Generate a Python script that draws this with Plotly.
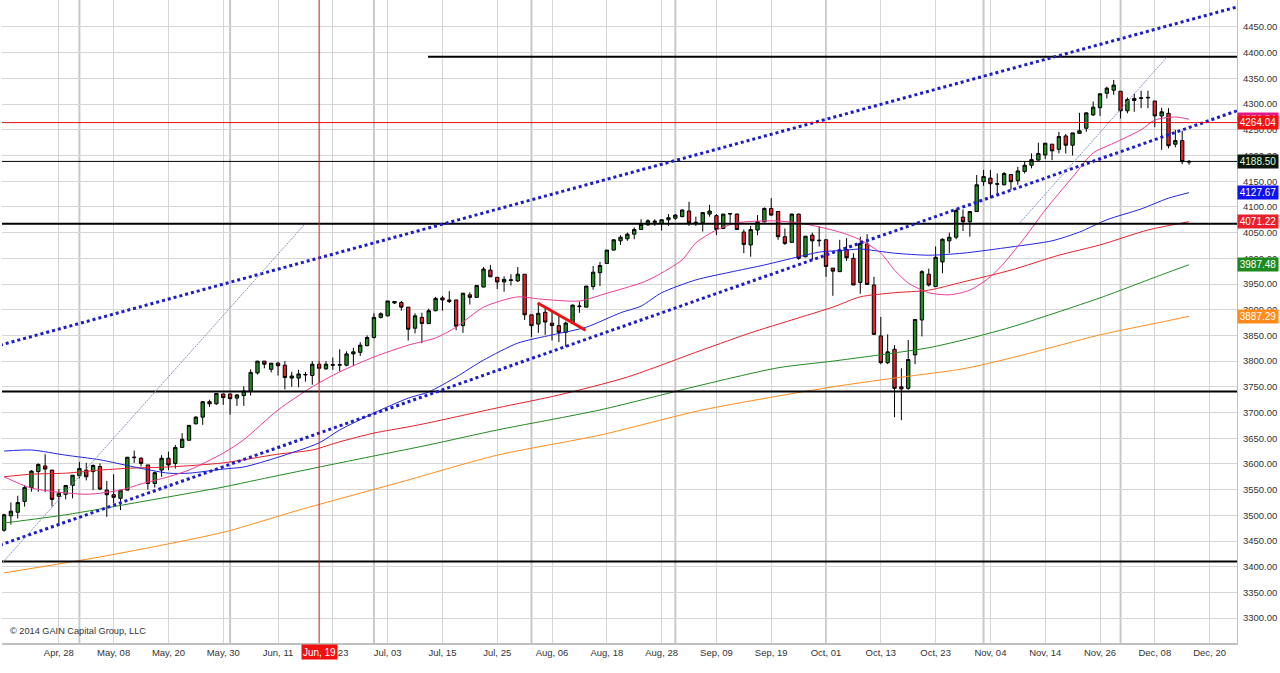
import plotly.graph_objects as go

# daily candles, index 0 = Apr 16 2014 (trading days, every 8th one labelled)
opens = [3471, 3499, 3506, 3527, 3554, 3585, 3596, 3588, 3537, 3541,
         3558, 3577, 3588, 3585, 3595, 3549, 3540, 3533, 3549, 3612,
         3611, 3598, 3562, 3588, 3611, 3601, 3632, 3646, 3678, 3691,
         3721, 3717, 3736, 3736, 3728, 3733, 3742, 3777, 3800, 3784,
         3796, 3792, 3767, 3767, 3773, 3772, 3794, 3785, 3792, 3792,
         3792, 3814, 3817, 3830, 3846, 3885, 3888, 3913, 3914, 3905,
         3864, 3885, 3873, 3898, 3923, 3919, 3919, 3869, 3929, 3924,
         3944, 3977, 3963, 3954, 3957, 3956, 3969, 3890, 3872, 3895,
         3874, 3869, 3856, 3874, 3906, 3905, 3945, 3972, 3990, 4016,
         4034, 4038, 4047, 4056, 4065, 4070, 4068, 4075, 4078, 4081,
         4092, 4068, 4069, 4086, 4083, 4058, 4086, 4086, 4051, 4026,
         4055, 4071, 4097, 4091, 4042, 4031, 4086, 4003, 4045, 4034,
         4036, 3981, 3974, 4017, 4000, 3953, 4028, 3948, 3849, 3797,
         3823, 3750, 3747, 3812, 3880, 3969, 3945, 3993, 4034, 4041,
         4080, 4071, 4091, 4149, 4156, 4144, 4143, 4163, 4151, 4169,
         4181, 4191, 4201, 4222, 4212, 4238, 4220, 4243, 4253, 4279,
         4293, 4321, 4327, 4325, 4287, 4307, 4311, 4312, 4306, 4277,
         4282, 4222, 4229, 4187]
highs = [3503, 3525, 3538, 3559, 3588, 3601, 3619, 3588, 3551, 3558,
         3578, 3604, 3602, 3599, 3601, 3567, 3580, 3549, 3613, 3626,
         3613, 3598, 3585, 3617, 3624, 3637, 3660, 3675, 3693, 3722,
         3725, 3738, 3737, 3737, 3736, 3751, 3784, 3800, 3800, 3796,
         3799, 3800, 3779, 3783, 3779, 3800, 3800, 3800, 3807, 3823,
         3819, 3826, 3837, 3850, 3893, 3895, 3917, 3917, 3917, 3905,
         3893, 3894, 3902, 3925, 3927, 3936, 3919, 3933, 3934, 3947,
         3983, 3987, 3963, 3965, 3969, 3983, 3969, 3890, 3914, 3903,
         3896, 3890, 3877, 3910, 3916, 3946, 3985, 3993, 4016, 4037,
         4045, 4050, 4060, 4076, 4076, 4076, 4076, 4086, 4086, 4095,
         4110, 4081, 4089, 4104, 4086, 4086, 4087, 4087, 4056, 4063,
         4084, 4099, 4117, 4091, 4058, 4087, 4087, 4043, 4050, 4062,
         4036, 3981, 4036, 4039, 4010, 4042, 4047, 3964, 3886, 3852,
         3831, 3786, 3841, 3881, 3977, 3980, 4023, 4039, 4050, 4097,
         4095, 4091, 4162, 4172, 4172, 4165, 4168, 4163, 4178, 4188,
         4204, 4225, 4224, 4222, 4246, 4242, 4244, 4283, 4283, 4305,
         4321, 4334, 4347, 4325, 4313, 4320, 4326, 4326, 4306, 4293,
         4292, 4250, 4248, 4191]
lows = [3468, 3482, 3494, 3517, 3546, 3546, 3545, 3517, 3480, 3531,
        3533, 3572, 3568, 3549, 3549, 3497, 3523, 3510, 3549, 3602,
        3595, 3550, 3554, 3575, 3588, 3591, 3631, 3646, 3677, 3676,
        3711, 3715, 3715, 3696, 3713, 3713, 3733, 3774, 3786, 3778,
        3772, 3745, 3750, 3749, 3760, 3754, 3758, 3783, 3783, 3780,
        3790, 3790, 3810, 3829, 3844, 3883, 3887, 3911, 3898, 3840,
        3854, 3835, 3872, 3897, 3898, 3913, 3860, 3855, 3910, 3923,
        3944, 3964, 3940, 3935, 3947, 3954, 3880, 3847, 3855, 3851,
        3840, 3837, 3828, 3873, 3894, 3905, 3939, 3946, 3989, 4015,
        4026, 4034, 4037, 4056, 4063, 4063, 4054, 4063, 4075, 4080,
        4063, 4063, 4052, 4081, 4045, 4058, 4068, 4055, 4010, 4003,
        4045, 4070, 4083, 4036, 4026, 4031, 3997, 4002, 3997, 4023,
        3964, 3927, 3974, 3995, 3948, 3931, 3948, 3852, 3794, 3794,
        3691, 3685, 3744, 3794, 3848, 3945, 3944, 3971, 4010, 4037,
        4053, 4042, 4091, 4141, 4117, 4123, 4142, 4133, 4143, 4165,
        4175, 4190, 4193, 4191, 4204, 4204, 4200, 4243, 4246, 4277,
        4277, 4311, 4318, 4272, 4282, 4285, 4292, 4292, 4255, 4211,
        4214, 4216, 4183, 4182]
closes = [3501, 3508, 3525, 3554, 3586, 3599, 3590, 3531, 3543, 3558,
          3578, 3591, 3575, 3597, 3551, 3540, 3535, 3549, 3613, 3613,
          3601, 3562, 3583, 3611, 3598, 3632, 3648, 3675, 3691, 3721,
          3717, 3737, 3729, 3727, 3734, 3742, 3778, 3800, 3794, 3796,
          3791, 3768, 3771, 3775, 3774, 3794, 3786, 3794, 3793, 3793,
          3814, 3818, 3831, 3846, 3885, 3892, 3917, 3916, 3905, 3862,
          3888, 3873, 3898, 3922, 3919, 3916, 3868, 3932, 3924, 3947,
          3979, 3964, 3954, 3959, 3958, 3969, 3890, 3869, 3893, 3876,
          3869, 3856, 3874, 3909, 3907, 3946, 3973, 3986, 4016, 4036,
          4041, 4047, 4056, 4066, 4073, 4072, 4075, 4079, 4084, 4094,
          4069, 4070, 4089, 4092, 4056, 4086, 4087, 4056, 4027, 4056,
          4071, 4097, 4084, 4042, 4029, 4086, 4000, 4043, 4034, 4035,
          3984, 3975, 4016, 4001, 3948, 4029, 3949, 3852, 3797, 3818,
          3747, 3746, 3803, 3881, 3974, 3948, 4002, 4037, 4041, 4093,
          4071, 4091, 4143, 4159, 4145, 4145, 4165, 4149, 4170, 4181,
          4192, 4204, 4224, 4209, 4237, 4220, 4244, 4248, 4283, 4294,
          4320, 4331, 4337, 4287, 4309, 4311, 4312, 4313, 4277, 4285,
          4219, 4229, 4188, 4188.5]

tick_pos = [8, 16, 24, 32, 40, 48, 56, 64, 72, 80, 88,
            96, 104, 112, 120, 128, 136, 144, 152, 160, 168, 176]
tick_labels = ['Apr, 28', 'May, 08', 'May, 20', 'May, 30', 'Jun, 11', 'Jun, 23',
               'Jul, 03', 'Jul, 15', 'Jul, 25', 'Aug, 06', 'Aug, 18', 'Aug, 28',
               'Sep, 09', 'Sep, 19', 'Oct, 01', 'Oct, 13', 'Oct, 23', 'Nov, 04',
               'Nov, 14', 'Nov, 26', 'Dec, 08', 'Dec, 20']
month_starts = [11, 33, 54, 77, 98, 120, 143, 163]

# moving averages (index, value)
ma20_x = [0, 4, 12, 17, 20, 24, 27, 32, 35, 40, 45, 49, 54, 59, 63, 66, 70, 75, 78,
          84, 88, 93, 95, 99, 101, 104, 107, 112, 116, 119, 122, 125, 128, 130,
          132, 135, 138, 141, 144, 146, 149, 152, 156, 159, 162, 166, 168, 171, 173]
ma20_y = [3575, 3553, 3541, 3549, 3561, 3575, 3588, 3621, 3647, 3705, 3750, 3779,
          3808, 3831, 3845, 3866, 3905, 3925, 3921, 3917, 3932, 3952, 3964, 3997,
          4030, 4055, 4069, 4073, 4069, 4061, 4051, 4036, 4010, 3977, 3952, 3933,
          3929, 3938, 3964, 3991, 4040, 4094, 4158, 4205, 4224, 4250, 4269, 4275, 4270.54]
ma50_x = [0, 4, 9, 14, 19, 24, 27, 32, 35, 40, 46, 49, 54, 59, 62, 66, 70, 75, 80,
          85, 90, 93, 96, 101, 106, 111, 116, 119, 123, 125, 130, 135, 140, 147,
          153, 157, 161, 166, 170, 173]
ma50_y = [3625, 3627, 3617, 3608, 3594, 3582, 3582, 3590, 3594, 3613, 3641, 3666,
          3699, 3728, 3740, 3769, 3802, 3835, 3851, 3866, 3894, 3907, 3933, 3958,
          3973, 3987, 4003, 4012, 4016, 4018, 4010, 4006, 4010, 4022, 4034, 4051,
          4075, 4096, 4117, 4127.67]
ma100_x = [0, 4, 9, 14, 19, 24, 32, 40, 45, 49, 54, 59, 62, 72, 81, 91, 102, 109,
           115, 121, 125, 130, 135, 140, 147, 154, 160, 167, 173]
ma100_y = [3575, 3580, 3582, 3588, 3592, 3594, 3602, 3619, 3627, 3643, 3660, 3672,
           3680, 3709, 3734, 3769, 3822, 3855, 3880, 3905, 3925, 3933, 3938, 3954,
           3977, 4006, 4026, 4055, 4071.22]
ma150_x = [0, 9, 19, 32, 37, 49, 62, 72, 87, 102, 113, 121, 130, 135, 140, 147,
           160, 169, 173]
ma150_y = [3485, 3501, 3524, 3555, 3569, 3602, 3637, 3666, 3705, 3754, 3787, 3800,
           3816, 3826, 3841, 3866, 3923, 3968, 3987.48]
ma200_x = [0, 14, 32, 43, 58, 72, 87, 102, 121, 130, 140, 147, 160, 169, 173]
ma200_y = [3388, 3419, 3467, 3510, 3565, 3617, 3656, 3705, 3750, 3767, 3785, 3806,
           3851, 3876, 3887.29]

# drawn objects
channel_upper = [(-0.6, 3831), (180, 4489)]
channel_lower = [(-0.6, 3442), (180, 4287)]
fan_lines = [[(-0.15, 3409), (43.8, 4065)], [(148.3, 4069), (169.8, 4392)]]
red_trend = [(77.9, 3913), (84.9, 3860)]
levels_full = [4067, 3741, 3410]
level_top = 4392
level_top_start = 61.9
last_price = 4188.50
cross_x, cross_y = 46, 4264.04
cross_label = 'Jun, 19'

y_ticks = list(range(3300, 4451, 50))
xr = [-0.3, 180]
yr = [3251.6, 4502.5]

FONT = 'Arial, Liberation Sans, sans-serif'
FS = 9.2

fig = go.Figure()

ma_styles = [(ma200_x, ma200_y, '#ff8c1a'), (ma150_x, ma150_y, '#228b22'),
             (ma100_x, ma100_y, '#e8202a'), (ma50_x, ma50_y, '#2323e0'),
             (ma20_x, ma20_y, '#ee3a96')]
for mx, my, col in ma_styles:
    fig.add_trace(go.Scatter(x=mx, y=my, mode='lines', hoverinfo='skip',
                             line=dict(color=col, width=1, shape='spline', smoothing=0.7)))

fig.add_trace(go.Candlestick(
    x=list(range(len(opens))), open=opens, high=highs, low=lows, close=closes,
    increasing=dict(line=dict(color='#000000', width=1), fillcolor='#228b22'),
    decreasing=dict(line=dict(color='#000000', width=1), fillcolor='#e8202a'),
    whiskerwidth=0))

shapes = []
for m in month_starts:
    shapes.append(dict(type='line', xref='x', yref='paper', x0=m, x1=m, y0=0, y1=1,
                       layer='below', line=dict(color='#c8c8c8', width=2)))
for lv in levels_full:
    shapes.append(dict(type='line', xref='paper', yref='y', x0=0, x1=1, y0=lv, y1=lv,
                       line=dict(color='#000000', width=2)))
shapes.append(dict(type='line', xref='x', yref='y', x0=level_top_start, x1=xr[1],
                   y0=level_top, y1=level_top, line=dict(color='#000000', width=2)))
shapes.append(dict(type='line', xref='paper', yref='y', x0=0, x1=1, y0=last_price,
                   y1=last_price, line=dict(color='#000000', width=1)))
for (a, b) in [channel_upper, channel_lower]:
    shapes.append(dict(type='line', xref='x', yref='y', x0=a[0], y0=a[1], x1=b[0], y1=b[1],
                       line=dict(color='#1c1cc8', width=3, dash='3px,3px')))
for (a, b) in fan_lines:
    shapes.append(dict(type='line', xref='x', yref='y', x0=a[0], y0=a[1], x1=b[0], y1=b[1],
                       line=dict(color='#8395bd', width=1, dash='2px,1px')))
shapes.append(dict(type='line', xref='x', yref='y', x0=red_trend[0][0], y0=red_trend[0][1],
                   x1=red_trend[1][0], y1=red_trend[1][1],
                   line=dict(color='#ee1111', width=3)))
shapes.append(dict(type='line', xref='x', yref='paper', x0=cross_x, x1=cross_x, y0=0, y1=1,
                   line=dict(color='#e01010', width=1)))
shapes.append(dict(type='line', xref='paper', yref='y', x0=0, x1=1, y0=cross_y, y1=cross_y,
                   line=dict(color='#e01010', width=1)))

tags = [(4270.54, '#e0188c', '#ffffff'), (cross_y, '#f01010', '#ffffff'),
        (last_price, '#0c160c', '#d8ffd8'), (4127.67, '#1010f0', '#ffffff'),
        (4071.22, '#e8202a', '#ffffff'), (3987.48, '#1e8a1e', '#ffffff'),
        (3887.29, '#ff8c1a', '#ffffff')]
annotations = []
for val, bg, fc in tags:
    annotations.append(dict(xref='paper', yref='y', x=1, y=val, xanchor='left',
                            yanchor='middle', text='%.2f' % val, showarrow=False,
                            bgcolor=bg, width=40, height=13, borderpad=0, xshift=0,
                            font=dict(family=FONT, size=FS + 0.8, color=fc)))
annotations.append(dict(xref='x', yref='paper', x=cross_x, y=0, yanchor='top',
                        xanchor='center', text=cross_label, showarrow=False,
                        bgcolor='#f01010', width=35, height=14, borderpad=0, yshift=-1,
                        font=dict(family=FONT, size=FS + 0.8, color='#ffffff')))
annotations.append(dict(xref='paper', yref='paper', x=0.005, y=0.008, xanchor='left',
                        yanchor='bottom', text='© 2014 GAIN Capital Group, LLC',
                        showarrow=False, font=dict(family=FONT, size=FS, color='#333333')))

fig.update_layout(
    width=1280, height=673,
    margin=dict(l=2, r=43, t=0, b=30),
    paper_bgcolor='#ffffff', plot_bgcolor='#ffffff',
    showlegend=False,
    font=dict(family=FONT, size=FS, color='#333333'),
    shapes=shapes, annotations=annotations,
    xaxis=dict(range=xr, tickvals=tick_pos, ticktext=tick_labels, showgrid=True,
               gridcolor='#d6d6d6', gridwidth=1, zeroline=False, showline=True,
               linecolor='#c0c0c0', linewidth=2, mirror=False, ticks='',
               rangeslider=dict(visible=False), tickfont=dict(size=FS + 0.3, color='#333333')),
    yaxis=dict(range=yr, side='right', tickvals=y_ticks,
               ticktext=['%.2f' % v for v in y_ticks], showgrid=True,
               gridcolor='#d6d6d6', gridwidth=1, zeroline=False, showline=True,
               linecolor='#c0c0c0', linewidth=1, ticks='outside', ticklen=3,
               tickcolor='rgba(0,0,0,0)', tickfont=dict(size=FS + 0.3, color='#333333')),
)

fig.write_html('out.html', config={'displayModeBar': False},
               post_script="document.body.style.margin='0';document.body.style.overflow='hidden';")
